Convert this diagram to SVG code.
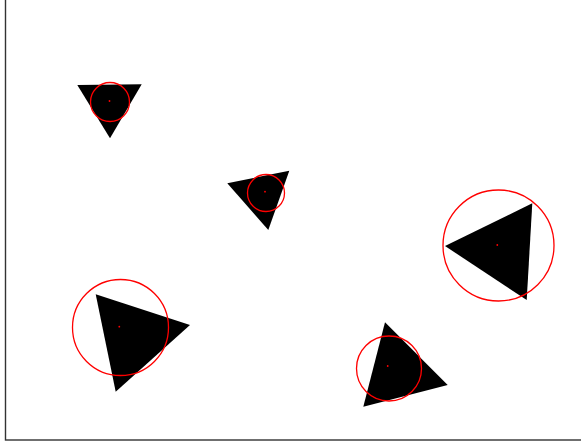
<svg xmlns="http://www.w3.org/2000/svg" width="581" height="443" viewBox="0 0 581 443">
<style>
.tri{fill:#000;stroke:none}
.c{fill:none;stroke:#f00;stroke-width:1.3}
.d{fill:#f00}
</style>
<rect width="581" height="443" fill="#fff"/>
<rect x="5.5" y="-10" width="600" height="450" fill="none" stroke="#333" stroke-width="1.4"/>
<g id="t1"><polygon class="tri" points="77.3,85 141.7,84.3 110,138.3"/><circle class="c" cx="110" cy="102" r="19.5"/><circle class="d" cx="109.5" cy="101" r="0.9"/></g>
<g id="t2"><polygon class="tri" points="227.3,183.3 289.3,170.7 268.3,230"/><circle class="c" cx="266" cy="193" r="18.5"/><circle class="d" cx="265" cy="191.7" r="0.9"/></g>
<g id="t3"><polygon class="tri" points="445,246 532.3,203.3 526.7,300"/><circle class="c" cx="498.5" cy="245.5" r="55.5"/><circle class="d" cx="497.3" cy="245" r="0.9"/></g>
<g id="t4"><polygon class="tri" points="95.7,294.3 190,325 115.7,391.7"/><circle class="c" cx="120.5" cy="327.5" r="48"/><circle class="d" cx="119.3" cy="326.7" r="0.9"/></g>
<g id="t5"><polygon class="tri" points="385,322.3 447.7,385 363.3,406.7"/><circle class="c" cx="389" cy="368.5" r="32.5"/><circle class="d" cx="387.7" cy="366" r="0.9"/></g>
</svg>
